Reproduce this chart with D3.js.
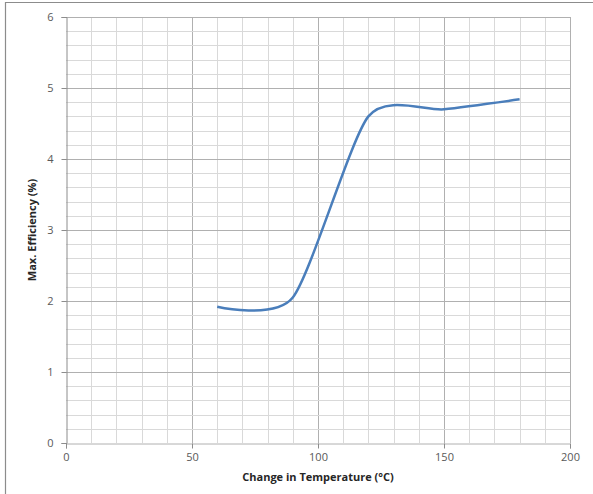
<!DOCTYPE html>
<html>
<head>
<meta charset="utf-8">
<script src="https://cdnjs.cloudflare.com/ajax/libs/d3/7.8.5/d3.min.js"></script>
<style>
  body { margin: 0; background: #fff; }
  svg { display: block; }
  text { font-family: "Open Sans", "Liberation Sans", sans-serif; }
</style>
</head>
<body>
<svg id="chart" width="593" height="494"></svg>
<script>
var temps = [60, 90, 120, 150, 180];
var effs = [1.92, 2.05, 4.6, 4.7, 4.84];
var xTicks = [0, 50, 100, 150, 200];
var yTicks = [0, 1, 2, 3, 4, 5, 6];

var svg = d3.select('#chart');
var plotL = 66, plotR = 570, plotT = 17, plotB = 443;

var x = d3.scaleLinear().domain([0, 200]).range([plotL, plotR]);
var y = d3.scaleLinear().domain([0, 6]).range([plotB, plotT]);

// frame of the pasted chart
svg.append('path')
    .attr('d', 'M5.5,494V2.5H593')
    .attr('fill', 'none')
    .attr('stroke', '#8c8c8c')
    .attr('stroke-width', 1.2);

// grid, minor every 10 / 0.2, major every 50 / 1
var g = svg.append('g');
g.selectAll('.vgrid').data(d3.range(10, 201, 10)).enter().append('line')
    .attr('x1', d => Math.round(x(d)) + 0.5).attr('x2', d => Math.round(x(d)) + 0.5)
    .attr('y1', plotT).attr('y2', plotB)
    .attr('stroke', d => d % 50 == 0 ? '#b0b0b0' : '#d9d9d9');
g.selectAll('.hgrid').data(d3.range(1, 31)).enter().append('line')
    .attr('y1', d => Math.round(y(d / 5)) + 0.5).attr('y2', d => Math.round(y(d / 5)) + 0.5)
    .attr('x1', plotL).attr('x2', plotR)
    .attr('stroke', d => d % 5 == 0 ? '#b0b0b0' : '#d9d9d9');

// axes
var xAxis = svg.append('g').attr('transform', 'translate(0,' + (plotB + 0.5) + ')')
    .call(d3.axisBottom(x).tickValues(xTicks).tickSize(5).tickPadding(5).tickFormat(d3.format('d')));
var yAxis = svg.append('g').attr('transform', 'translate(' + (plotL + 0.5) + ',0)')
    .call(d3.axisLeft(y).tickValues(yTicks).tickSize(5).tickPadding(8).tickFormat(d3.format('d')));
[xAxis, yAxis].forEach(a => {
    a.select('.domain').attr('stroke', '#8c8c8c');
    a.selectAll('.tick line').attr('stroke', '#8c8c8c');
    a.selectAll('.tick text').attr('fill', '#595959').style('font-size', '11px');
});
xAxis.select('.domain').attr('stroke', '#b0b0b0');

// series, smoothed like the spreadsheet line
var pts = temps.map((t, i) => [t, effs[i]]);
svg.append('path')
    .datum(pts)
    .attr('fill', 'none')
    .attr('stroke', '#4a7ebb')
    .attr('stroke-width', 2.5)
    .attr('d', d3.line().x(d => x(d[0])).y(d => y(d[1])).curve(d3.curveCardinal.tension(0.3)));

// axis titles
svg.append('text')
    .attr('x', 318).attr('y', 481)
    .attr('text-anchor', 'middle')
    .style('font-size', '11px').style('font-weight', 'bold').attr('fill', '#262626')
    .text('Change in Temperature (°C)');
svg.append('text')
    .attr('transform', 'translate(36,230) rotate(-90)')
    .attr('text-anchor', 'middle')
    .style('font-size', '11px').style('font-weight', 'bold').attr('fill', '#262626')
    .text('Max. Efficiency (%)');
</script>
</body>
</html>
